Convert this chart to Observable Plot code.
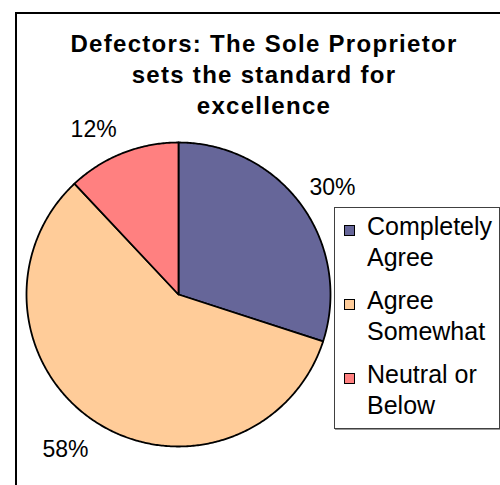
<!DOCTYPE html>
<html>
<head>
<meta charset="utf-8">
<script src="https://cdn.jsdelivr.net/npm/d3@7"></script>
<script src="https://cdn.jsdelivr.net/npm/@observablehq/plot@0.6"></script>
<style>
  html, body { margin: 0; padding: 0; background: #fff; }
  #root { position: relative; width: 500px; height: 485px; overflow: hidden; font-family: "Liberation Sans", Arial, sans-serif; }
  #frame { position: absolute; left: 15px; top: 12px; width: 600px; height: 600px; border-top: 2px solid #000; border-left: 2px solid #000; box-sizing: border-box; }
  #chart { position: absolute; left: 0; top: 0; }
  #title { position: absolute; left: 64px; top: 28px; width: 400px; text-align: center; font-weight: bold; font-size: 24px; line-height: 31px; letter-spacing: 1.3px; color: #000; }
  #legend { position: absolute; left: 334px; top: 207px; width: 166px; height: 222px; border: 1px solid #404040; box-sizing: border-box; background: #fff; box-shadow: 1px 1px 0 #999; }
  .item { position: absolute; left: 0; height: 62px; width: 100%; }
  .sw { position: absolute; left: 9px; top: 14px; width: 9px; height: 9px; border: 1px solid #000; }
  .lab { position: absolute; left: 32px; top: 0; font-size: 25px; line-height: 31px; color: #000; white-space: nowrap; }
</style>
</head>
<body>
<div id="root">
  <div id="frame"></div>
  <div id="chart"></div>
  <div id="title">Defectors: The Sole Proprietor<br>sets the standard for<br>excellence</div>
  <div id="legend"></div>
</div>
<script>
// ---- data ----
const categories = ["Completely Agree", "Agree Somewhat", "Neutral or Below"];
const legendLines = [["Completely", "Agree"], ["Agree", "Somewhat"], ["Neutral or", "Below"]];
const values = [30, 58, 12];
const labels = ["30%", "58%", "12%"];
const colors = ["#666699", "#FFCC99", "#FF8080"];

// ---- layout ----
const W = 500, H = 485;
const cx = 178, cy = 294, R = 152, labelR = 168;

const pie = d3.pie().sort(null).value(d => d.value);
const arcs = pie(categories.map((c, i) => ({category: c, value: values[i], label: labels[i]})));

// polygon points for each slice (angles from data)
const pts = [];
arcs.forEach(a => {
  const c = a.data.category;
  pts.push({category: c, x: cx, y: cy});
  const n = Math.max(2, Math.ceil((a.endAngle - a.startAngle) / 0.01));
  for (let k = 0; k <= n; k++) {
    const t = a.startAngle + (a.endAngle - a.startAngle) * k / n;
    pts.push({category: c, x: cx + R * Math.sin(t), y: cy - R * Math.cos(t)});
  }
});

const labs = arcs.map(a => {
  const m = (a.startAngle + a.endAngle) / 2;
  const x = cx + labelR * Math.sin(m), y = cy - labelR * Math.cos(m);
  return {text: a.data.label, x, y, right: Math.sin(m) >= 0, top: Math.cos(m) >= 0};
});

const textMarks = [];
for (const right of [true, false]) for (const top of [true, false]) {
  textMarks.push(Plot.text(labs.filter(d => d.right === right && d.top === top), {
    x: "x", y: "y", text: "text",
    textAnchor: right ? "start" : "end",
    lineAnchor: top ? "bottom" : "top",
    dx: right ? -5 : 0,
    dy: top ? -1 : 4,
    fontSize: 23, fill: "#000",
    fontFamily: "Liberation Sans, Arial, sans-serif"
  }));
}

const chart = Plot.plot({
  width: W, height: H,
  margin: 0,
  style: {background: "transparent", overflow: "visible"},
  x: {domain: [0, W], range: [0, W], axis: null},
  y: {domain: [0, H], range: [0, H], axis: null},
  color: {type: "ordinal", domain: categories, range: colors, legend: false},
  marks: [
    Plot.line(pts, {x: "x", y: "y", z: "category", fill: "category", stroke: "#000", strokeWidth: 1.8, curve: "linear-closed", strokeLinejoin: "round"}),
    ...textMarks
  ]
});
document.getElementById("chart").appendChild(chart);

// legend
const leg = document.getElementById("legend");
categories.forEach((c, i) => {
  const it = document.createElement("div");
  it.className = "item";
  it.style.top = (3 + i * 74) + "px";
  const sw = document.createElement("div");
  sw.className = "sw";
  sw.style.background = colors[i];
  const lb = document.createElement("div");
  lb.className = "lab";
  lb.innerHTML = legendLines[i].join("<br>");
  it.appendChild(sw); it.appendChild(lb);
  leg.appendChild(it);
});
</script>
</body>
</html>
